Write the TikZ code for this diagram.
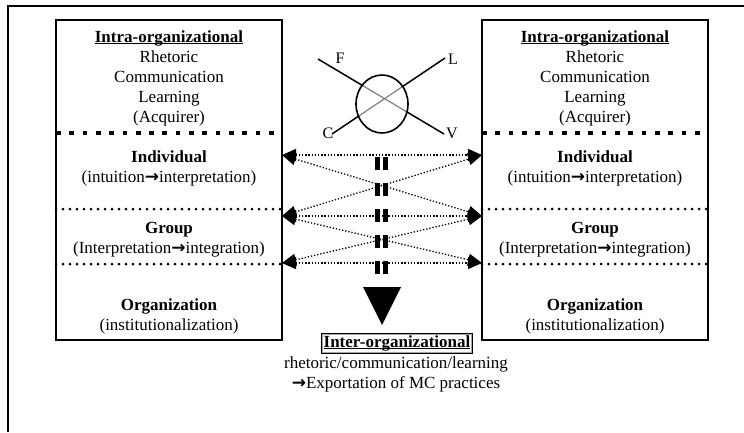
\documentclass[tikz,border=0pt]{standalone}
\usepackage{fontspec}
\setmainfont{Liberation Serif}
\newfontfamily\arrowfont{DejaVu Sans}
\usetikzlibrary{arrows.meta,shapes.geometric}
% bold arrow used inside the level descriptions
\newcommand\myarr{{\arrowfont\bfseries\symbol{"2192}}}
% bold heading with an underline close to the baseline
\newcommand\ulhead[1]{\setbox0\hbox{\textbf{#1}}\rlap{\rule[-2.2pt]{\wd0}{1.2pt}}\box0}

\begin{document}
\begin{tikzpicture}[x=1pt,y=-1pt,
  txt/.style={font=\fontsize{17}{20}\selectfont, align=center, inner sep=0pt},
  lbl/.style={font=\fontsize{16}{18}\selectfont, inner sep=0pt},
  frame/.style={line width=1.5pt},
  levelbox/.style={draw, line width=1.6pt, minimum width=226pt, minimum height=320pt, inner sep=0pt},
  sqline/.style={line width=4.7pt, dash pattern=on 4.7pt off 8.6pt},
  dotline/.style={line width=3pt, line cap=round, dash pattern=on 0pt off 7pt},
  link/.style={line width=1.3pt, dash pattern=on 1.3pt off 1.9pt,
    {Triangle[length=14pt,width=12pt]}-{Triangle[length=14pt,width=12pt]}},
  vdash/.style={line width=5pt, dash pattern=on 13pt off 13pt},
  xline/.style={line width=1.5pt},
]
\useasboundingbox (0,0) rectangle (744,432);

% outer frame
\draw[frame] (744,6) -- (8,6) -- (8,432);

% the two level boxes
\node[levelbox] (lbox) at (169,180) {};
\node[levelbox] (rbox) at (595,180) {};

% separators between levels
\draw[sqline] (56,133) -- (282,133);
\draw[sqline] (482,133) -- (708,133);
\draw[dotline] (56,209) -- (282,209);
\draw[dotline] (482,209) -- (708,209);
\draw[dotline] (56,264) -- (282,264);
\draw[dotline] (482,264) -- (708,264);

% level texts, left box
\node[txt] (lhead) at (169,78) {\ulhead{Intra-organizational}\\Rhetoric\\Communication\\Learning\\(Acquirer)};
\node[txt] (lind) at (169,168) {\textbf{Individual}\\(intuition\myarr interpretation)};
\node[txt] (lgrp) at (169,240) {\textbf{Group}\\(Interpretation\myarr integration)};
\node[txt] (lorg) at (169,316) {\textbf{Organization}\\(institutionalization)};

% level texts, right box
\node[txt] (rhead) at (595,78) {\ulhead{Intra-organizational}\\Rhetoric\\Communication\\Learning\\(Acquirer)};
\node[txt] (rind) at (595,168) {\textbf{Individual}\\(intuition\myarr interpretation)};
\node[txt] (rgrp) at (595,240) {\textbf{Group}\\(Interpretation\myarr integration)};
\node[txt] (rorg) at (595,316) {\textbf{Organization}\\(institutionalization)};

% link end points on the box edges
\coordinate (L1) at (282,155);
\coordinate (L2) at (282,216);
\coordinate (L3) at (282,263);
\coordinate (R1) at (482,155);
\coordinate (R2) at (482,216);
\coordinate (R3) at (482,263);

\draw[link] (L1) -- (R1);
\draw[link] (L2) -- (R2);
\draw[link] (L3) -- (R3);
\draw[link] (L1) -- (R2);
\draw[link] (L2) -- (R1);
\draw[link] (L2) -- (R3);
\draw[link] (L3) -- (R2);

% central downward double dashed arrow
\coordinate (vl0) at (377,157);
\coordinate (vl1) at (377,276);
\coordinate (vr0) at (385,157);
\coordinate (vr1) at (385,276);
\draw[vdash] (vl0) -- (vl1);
\draw[vdash] (vr0) -- (vr1);
\coordinate (ta) at (363,287);
\coordinate (tb) at (401,287);
\coordinate (tc) at (382,325);
\fill (ta) -- (tb) -- (tc) -- cycle;

% crossed circle symbol
\coordinate (F) at (318,59);
\coordinate (V) at (444,134);
\coordinate (L) at (445,58);
\coordinate (C) at (332,134);
\draw[xline] (F) -- (V);
\draw[xline] (L) -- (C);
\fill[white] (382,104) ellipse [x radius=26, y radius=29];
\begin{scope}
  \clip (382,104) ellipse [x radius=26, y radius=29];
  \draw[gray, line width=1.2pt] (F) -- (V) (L) -- (C);
\end{scope}
\node[draw, ellipse, line width=1.6pt, minimum width=52pt, minimum height=58pt, inner sep=0pt] (hub) at (382,104) {};
\node[lbl] (fl) at (340,58) {F};
\node[lbl] (ll) at (453,59) {L};
\node[lbl] (cl) at (328,133) {C};
\node[lbl] (vlab) at (452,133) {V};

% inter-organizational level
\node[txt, draw, line width=1pt, minimum width=151pt, minimum height=20pt] (inter) at (397,343) {\ulhead{Inter-organizational}};
\draw[gray!70, line width=0.8pt] ([shift={(1.6,1.6)}]inter.north west) rectangle ([shift={(-1.6,-1.6)}]inter.south east);
\node[txt] (intertxt) at (396,374) {rhetoric/communication/learning\\\myarr Exportation of MC practices};
\end{tikzpicture}
\end{document}
